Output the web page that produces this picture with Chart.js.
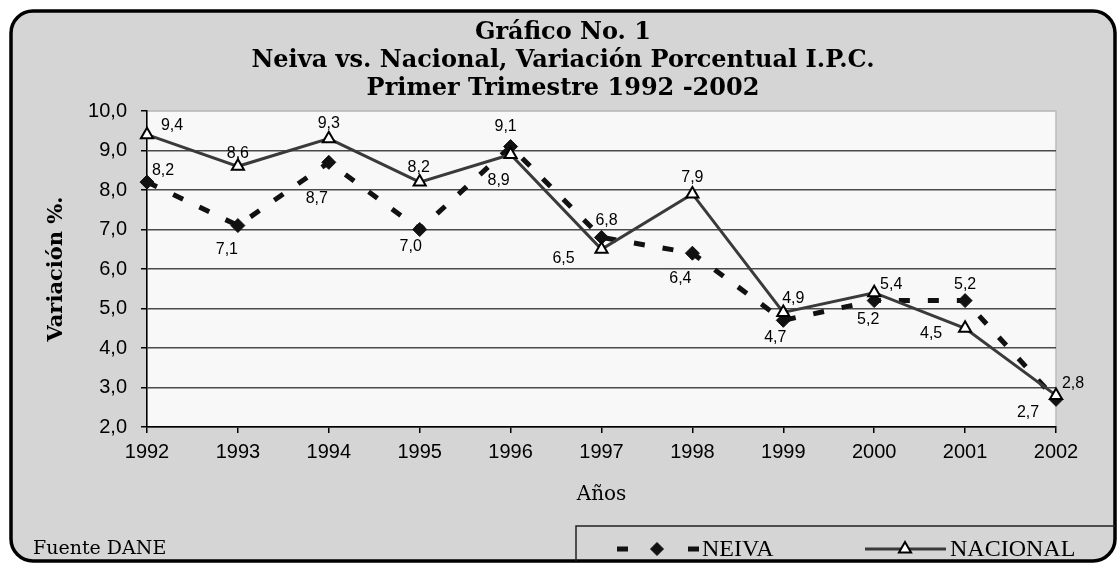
<!DOCTYPE html>
<html>
<head>
<meta charset="utf-8">
<script src="https://cdn.jsdelivr.net/npm/chart.js@4.4.1/dist/chart.umd.min.js"></script>
<style>
  html, body { margin: 0; padding: 0; background: #fff; }
  #wrap { width: 1119px; height: 564px; }
</style>
</head>
<body>
<div id="wrap"><canvas id="ipc" width="1119" height="564"></canvas></div>
<script>
// values
const years = ['1992', '1993', '1994', '1995', '1996', '1997', '1998', '1999', '2000', '2001', '2002']
const neiva = [8.2, 7.1, 8.7, 7.0, 9.1, 6.8, 6.4, 4.7, 5.2, 5.2, 2.7]
const nacional = [9.4, 8.6, 9.3, 8.2, 8.9, 6.5, 7.9, 4.9, 5.4, 4.5, 2.8]
const titleLines = ['Gráfico No. 1', 'Neiva vs. Nacional, Variación Porcentual I.P.C.', 'Primer Trimestre 1992 -2002']
const yTitle = 'Variación %.'
const xTitle = 'Años'
const source = 'Fuente DANE'

// where each value label sits relative to its point (dx, dy)
const neivaLabelPos = [[16, -12], [-11, 24], [-12, 36], [-9, 17], [-5, -20], [5, -17], [-12, 25], [-8, 17], [-6, 19], [0, -16], [-28, 13]]
const nacionalLabelPos = [[25, -9], [0, -13], [0, -15], [-1, -15], [-12, 26], [-38, 9], [0, -16], [10, -14], [17, -8], [-34, 5], [17, -12]]

const serif = '"DejaVu Serif", serif'
const sans = '"Liberation Sans", Arial, sans-serif'

const comma = (v) => Number(v).toFixed(1).replace('.', ',')

function outline(ctx) {
  ctx.beginPath()
  ctx.roundRect(11, 11, 1104, 550, 22)
}

const frame = {
  id: 'frame',
  beforeDraw(chart) {
    const { ctx, chartArea: a } = chart
    ctx.save()
    ctx.fillStyle = '#fff'
    ctx.fillRect(0, 0, chart.width, chart.height)
    outline(ctx)
    ctx.fillStyle = '#d5d5d5'
    ctx.fill()
    ctx.fillStyle = '#f8f8f8'
    ctx.fillRect(a.left, a.top, a.right - a.left, a.bottom - a.top)
    ctx.strokeStyle = '#bdbdbd'
    ctx.lineWidth = 1.5
    ctx.strokeRect(a.left, a.top, a.right - a.left, a.bottom - a.top)
    ctx.restore()
  },
  afterDraw(chart) {
    const { ctx } = chart
    ctx.save()
    ctx.fillStyle = '#000'
    ctx.textBaseline = 'middle'
    ctx.textAlign = 'center'
    ctx.font = 'bold 24px ' + serif
    titleLines.forEach((line, i) => ctx.fillText(line, 563, 33 + i * 28))
    ctx.textAlign = 'left'
    ctx.font = '19px ' + serif
    ctx.fillText(source, 33, 549)
    outline(ctx)
    ctx.strokeStyle = '#000'
    ctx.lineWidth = 3.5
    ctx.stroke()
    ctx.restore()
  }
}

const valueLabels = {
  id: 'valueLabels',
  afterDatasetsDraw(chart) {
    const { ctx } = chart
    ctx.save()
    ctx.font = '16px ' + sans
    ctx.fillStyle = '#000'
    ctx.textAlign = 'center'
    ctx.textBaseline = 'middle'
    chart.data.datasets.forEach((ds, i) => {
      const meta = chart.getDatasetMeta(i)
      meta.data.forEach((pt, j) => {
        const [dx, dy] = ds.labelPos[j]
        ctx.fillText(comma(ds.data[j]), pt.x + dx, pt.y + dy)
      })
    })
    ctx.restore()
  }
}

const legendBox = {
  id: 'legendBox',
  afterDraw(chart) {
    const { ctx } = chart
    const [ne, na] = chart.data.datasets
    const y = 549
    ctx.save()
    outline(ctx)
    ctx.clip()
    ctx.strokeStyle = '#222'
    ctx.lineWidth = 1.5
    ctx.strokeRect(576, 526, 560, 50)

    // NEIVA: dash, diamond, dash
    ctx.strokeStyle = ne.borderColor
    ctx.lineWidth = ne.borderWidth
    ctx.beginPath()
    ctx.moveTo(617, y); ctx.lineTo(628, y)
    ctx.moveTo(688, y); ctx.lineTo(699, y)
    ctx.stroke()
    ctx.fillStyle = ne.pointBackgroundColor
    ctx.strokeStyle = ne.pointBorderColor
    ctx.lineWidth = 1
    Chart.helpers.drawPoint(ctx, {
      pointStyle: ne.pointStyle, radius: 6.5, rotation: 0, borderWidth: 1
    }, 657, y)

    // NACIONAL: line with triangle
    ctx.strokeStyle = na.borderColor
    ctx.lineWidth = na.borderWidth
    ctx.beginPath()
    ctx.moveTo(865, y); ctx.lineTo(946, y)
    ctx.stroke()
    ctx.fillStyle = na.pointBackgroundColor
    ctx.strokeStyle = na.pointBorderColor
    ctx.lineWidth = na.pointBorderWidth
    Chart.helpers.drawPoint(ctx, {
      pointStyle: na.pointStyle, radius: na.pointRadius, rotation: 0, borderWidth: na.pointBorderWidth
    }, 905, y)

    ctx.fillStyle = '#000'
    ctx.font = '24px "Liberation Serif", serif'
    ctx.textBaseline = 'middle'
    ctx.fillText(ne.label, 702, y + 1)
    ctx.fillText(na.label, 950, y + 1)
    ctx.restore()
  }
}

new Chart(document.getElementById('ipc'), {
  type: 'line',
  data: {
    labels: years,
    datasets: [
      {
        label: 'NEIVA',
        data: neiva,
        labelPos: neivaLabelPos,
        order: 2,
        borderColor: '#111',
        borderWidth: 5,
        borderDash: [11, 18],
        pointStyle: 'rectRot',
        pointRadius: 7,
        pointBackgroundColor: '#111',
        pointBorderColor: '#111',
        pointBorderWidth: 1,
        tension: 0
      },
      {
        label: 'NACIONAL',
        data: nacional,
        labelPos: nacionalLabelPos,
        order: 1,
        borderColor: '#3a3a3a',
        borderWidth: 3,
        pointStyle: 'triangle',
        pointRadius: 7,
        pointBackgroundColor: '#fff',
        pointBorderColor: '#000',
        pointBorderWidth: 2,
        tension: 0
      }
    ]
  },
  options: {
    responsive: false,
    animation: false,
    devicePixelRatio: 1,
    layout: { padding: { left: 0, right: 63, top: 111, bottom: 54 } },
    plugins: {
      legend: { display: false },
      tooltip: { enabled: false },
      title: { display: false }
    },
    scales: {
      x: {
        offset: false,
        afterFit: (s) => { s.height = 83 },
        grid: { drawOnChartArea: false, offset: false, tickLength: 6, tickColor: '#000', lineWidth: 1.5 },
        border: { color: '#000', width: 1.5 },
        ticks: { color: '#000', padding: 7, font: { family: sans, size: 20 } },
        title: { display: true, text: xTitle, color: '#000', padding: { bottom: 3 }, font: { family: serif, size: 20 } }
      },
      y: {
        min: 2,
        max: 10,
        afterFit: (s) => { s.width = 147 },
        grid: {
          color: (c) => c.tick && c.tick.value === 10 ? '#bdbdbd' : '#4a4a4a',
          lineWidth: 1.5,
          tickLength: 6,
          tickColor: '#000'
        },
        border: { color: '#000', width: 1.5 },
        ticks: { stepSize: 1, color: '#000', padding: 14, font: { family: sans, size: 20 }, callback: (v) => comma(v) },
        title: { display: true, text: yTitle, color: '#000', padding: { top: 44 }, font: { family: serif, size: 21, weight: 'bold' } }
      }
    }
  },
  plugins: [frame, valueLabels, legendBox]
})
</script>
</body>
</html>
